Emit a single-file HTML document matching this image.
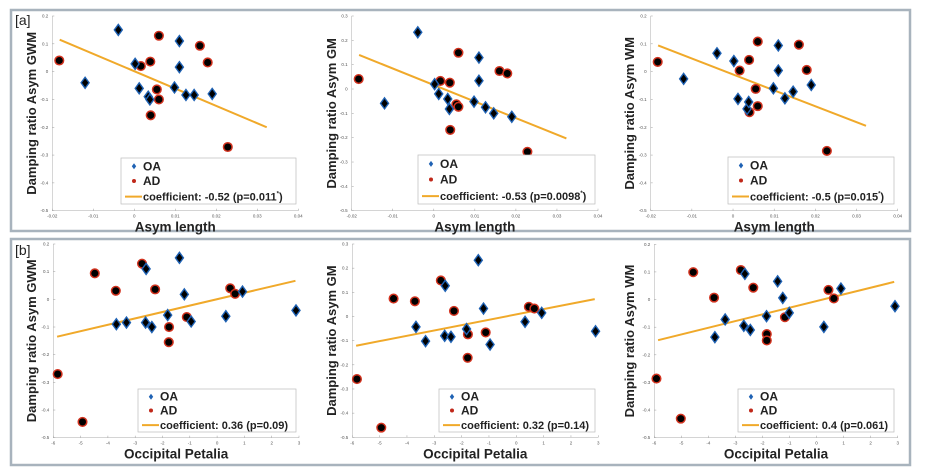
<!DOCTYPE html>
<html><head><meta charset="utf-8">
<style>
html,body{margin:0;padding:0;background:#fff;}
body{width:926px;height:472px;overflow:hidden;position:relative;font-family:"Liberation Sans",sans-serif;}
svg{position:absolute;left:0;top:0;}
</style></head>
<body>
<svg id="fig" width="926" height="472"></svg>
<script>
// ---- data ----
const oaLenX = [-0.0039,-0.012,0.0002,0.0012,0.0034,0.0038,0.0098,0.011,0.011,0.0126,0.0146,0.019];
const oaGWM_a = [0.15,-0.04,0.028,-0.06,-0.09,-0.10,-0.057,0.11,0.016,-0.084,-0.084,-0.08];
const oaGM_a  = [0.233,-0.059,0.02,-0.02,-0.041,-0.082,-0.052,0.129,0.034,-0.075,-0.1,-0.114];
const oaWM_a  = [0.066,-0.026,0.038,-0.098,-0.134,-0.109,-0.06,0.094,0.004,-0.096,-0.072,-0.048];
const adLenX = [-0.0183,0.0016,0.0039,0.006,0.0055,0.006,0.004,0.016,0.0179,0.0228];
const adGWM_a = [0.04,0.02,0.036,0.129,-0.064,-0.10,-0.157,0.093,0.033,-0.271];
const adGM_a  = [0.041,0.033,0.026,0.149,-0.063,-0.073,-0.168,0.074,0.064,-0.258];
const adWM_a  = [0.035,0.004,0.042,0.108,-0.062,-0.124,-0.146,0.097,0.006,-0.285];

const oaPetGWM_x = [-3.69,-3.32,-2.6,-2.62,-2.39,-1.81,-1.38,-1.2,-0.95,0.32,0.93,2.89];
const oaPetGWM_y = [-0.09,-0.084,0.11,-0.084,-0.10,-0.057,0.15,0.018,-0.08,-0.061,0.028,-0.04];
const adPetGWM_x = [-5.84,-4.93,-4.48,-3.71,-2.75,-2.27,-1.76,-1.77,-1.11,0.48,0.66];
const adPetGWM_y = [-0.27,-0.443,0.094,0.031,0.129,0.036,-0.10,-0.155,-0.064,0.04,0.02];
const oaPetGM_x = [-3.67,-3.32,-2.62,-2.6,-2.39,-1.82,-1.39,-1.2,-0.96,0.32,0.93,2.9];
const oaPetGM_y = [-0.043,-0.102,-0.08,0.127,-0.084,-0.052,0.233,0.033,-0.116,-0.022,0.015,-0.061];
const adPetGM_x = [-5.83,-4.94,-4.49,-3.71,-2.76,-2.28,-1.77,-1.78,-1.12,0.46,0.66];
const adPetGM_y = [-0.259,-0.46,0.074,0.063,0.149,0.023,-0.074,-0.171,-0.066,0.04,0.033];
const oaPetWM_x = [-3.76,-3.38,-2.69,-2.65,-2.45,-1.85,-1.44,-1.25,-1.01,0.27,0.9,2.9];
const oaPetWM_y = [-0.136,-0.072,-0.095,0.093,-0.11,-0.06,0.066,0.006,-0.048,-0.099,0.04,-0.024];
const adPetWM_x = [-5.92,-5.02,-4.56,-3.79,-2.8,-2.34,-1.84,-1.84,-1.17,0.44,0.64];
const adPetWM_y = [-0.286,-0.431,0.099,0.007,0.107,0.043,-0.125,-0.148,-0.064,0.035,0.004];

const fitLenX = [-0.0182,0.0323];
const fitGWM_a = [0.115,-0.2];
const fitGM_a = [0.14,-0.203];
const fitWM_a = [0.094,-0.195];
const fitPetX = [-5.86,2.87];
const fitGWM_b = [-0.135,0.067];
const fitGM_b = [-0.121,0.072];
const fitWM_b = [-0.147,0.064];

const lenTicks = [-0.02,-0.01,0,0.01,0.02,0.03,0.04];
const lenTickLabels = ["-0.02","-0.01","0","0.01","0.02","0.03","0.04"];
const petTicks = [-6,-5,-4,-3,-2,-1,0,1,2,3];
const petTickLabels = ["-6","-5","-4","-3","-2","-1","0","1","2","3"];
const yTicks2 = [0.2,0.1,0,-0.1,-0.2,-0.3,-0.4,-0.5];
const yTickLabels2 = ["0.2","0.1","0","-0.1","-0.2","-0.3","-0.4","-0.5"];
const yTicks3 = [0.3,0.2,0.1,0,-0.1,-0.2,-0.3,-0.4,-0.5];
const yTickLabels3 = ["0.3","0.2","0.1","0","-0.1","-0.2","-0.3","-0.4","-0.5"];

const NS="http://www.w3.org/2000/svg";
const svg=document.getElementById('fig');
function mk(tag,attrs,parent){const e=document.createElementNS(NS,tag);for(const k in attrs)e.setAttribute(k,attrs[k]);(parent||svg).appendChild(e);return e;}

// frames
let f1=mk('rect',{x:11,y:10,width:899,height:221,fill:'none',stroke:'#a8b3bd','stroke-width':2.5});


let f2=mk('rect',{x:11,y:239,width:899,height:226,fill:'none',stroke:'#a8b3bd','stroke-width':2.5});


let la=mk('text',{x:15,y:25,'font-size':14,fill:'#222'});la.textContent='[a]';


let lb=mk('text',{x:15,y:255,'font-size':14,fill:'#222'});lb.textContent='[b]';



function panel(p){
  const g=mk('g',{});
  
  
  const sx=v=>p.x0+(v-p.xd[0])/(p.xd[1]-p.xd[0])*(p.x1-p.x0);
  const sy=v=>p.y0+(v-p.yd[0])/(p.yd[1]-p.yd[0])*(p.y1-p.y0);
  // axes
  mk('line',{x1:p.x0,y1:p.y0,x2:p.x0,y2:p.y1,stroke:'#bbb','stroke-width':0.6},g);
  mk('line',{x1:p.x0,y1:p.y1,x2:p.x1,y2:p.y1,stroke:'#bbb','stroke-width':0.6},g);
  p.xt.forEach((t,i)=>{const x=sx(t);
    mk('line',{x1:x,y1:p.y1,x2:x,y2:p.y1-2,stroke:'#999','stroke-width':0.5},g);
    const tx=mk('text',{x:x,y:p.y1+7,'font-size':4.5,'text-anchor':'middle',fill:'#555'},g);tx.textContent=p.xl[i];
    
    });
  p.yt.forEach((t,i)=>{const y=sy(t);
    mk('line',{x1:p.x0,y1:y,x2:p.x0+2,y2:y,stroke:'#999','stroke-width':0.5},g);
    const tx=mk('text',{x:p.x0-4,y:y+1.5,'font-size':4.5,'text-anchor':'end',fill:'#555'},g);tx.textContent=p.yl[i];
    
    });
  // labels
  const xt=mk('text',{x:(p.x0+p.x1)/2,y:p.y1+21,'font-size':13.5,'font-weight':'bold','text-anchor':'middle',fill:'#222'},g);
  xt.textContent=p.xlab;
  
  
  const cy=(p.y0+p.y1)/2;
  const yt=mk('text',{x:p.ylx,y:cy,'font-size':13,'font-weight':'bold','text-anchor':'middle',fill:'#222',transform:`rotate(-90 ${p.ylx} ${cy})`},g);
  yt.textContent=p.ylab;
  
  
  // fit line
  const fl=mk('line',{x1:sx(p.fx[0]),y1:sy(p.fy[0]),x2:sx(p.fx[1]),y2:sy(p.fy[1]),stroke:'#f0a92a','stroke-width':2},g);
  
  
  // points
  p.ax.forEach((v,i)=>{const c=mk('circle',{cx:sx(v),cy:sy(p.ay[i]),r:4.3,fill:'#000',stroke:'#d2321e','stroke-width':1.5},g);
    
    });
  p.ox.forEach((v,i)=>{const x=sx(v),y=sy(p.oy[i]);
    const d=mk('polygon',{points:`${x},${y-5.5} ${x+4},${y} ${x},${y+5.5} ${x-4},${y}`,fill:'#000',stroke:'#1f62b4','stroke-width':1.4},g);
    
    });
  // legend
  const L=p.leg;
  const lg=mk('g',{},g);
  
  
  mk('rect',{x:L[0],y:L[1],width:L[2]-L[0],height:L[3]-L[1],fill:'#fff',stroke:'#bbb','stroke-width':0.7},lg);
  const h=L[3]-L[1];
  const r1=L[1]+h*0.18,r2=L[1]+h*0.5,r3=L[1]+h*0.84;
  const mx=L[0]+(p.lineLeg?13:13);
  mk('polygon',{points:`${mx},${r1-3} ${mx+2.2},${r1} ${mx},${r1+3} ${mx-2.2},${r1}`,fill:'#1f62b4'},lg);
  mk('circle',{cx:mx,cy:r2,r:2,fill:'#c0281a'},lg);
  mk('line',{x1:L[0]+4,y1:r3,x2:L[0]+21,y2:r3,stroke:'#f0a92a','stroke-width':2},lg);
  const e1=mk('text',{x:L[0]+22,y:r1+4,'font-size':12,'font-weight':'bold',fill:'#222'},lg);e1.textContent='OA';
  
  
  const e2=mk('text',{x:L[0]+22,y:r2+4,'font-size':12,'font-weight':'bold',fill:'#222'},lg);e2.textContent='AD';
  
  
  const e3=mk('text',{x:L[0]+22,y:r3+4,'font-size':11,'font-weight':'bold',fill:'#222'},lg);
  
  
  if(p.star){
    e3.appendChild(document.createTextNode(p.coef));
    const s=document.createElementNS(NS,'tspan');s.setAttribute('dy','-5');s.setAttribute('font-size','6');s.textContent='*';e3.appendChild(s);
    const s2=document.createElementNS(NS,'tspan');s2.setAttribute('dy','5');s2.textContent=')';e3.appendChild(s2);
  } else e3.textContent=p.coef;
}

panel({name:'plot-a-gwm',x0:52.3,x1:298.3,y0:16,y1:210.7,xd:[-0.02,0.04],yd:[0.2,-0.5],xt:lenTicks,xl:lenTickLabels,yt:yTicks2,yl:yTickLabels2,
  xlab:'Asym length',ylab:'Damping ratio Asym GWM',ylx:36,ox:oaLenX,oy:oaGWM_a,ax:adLenX,ay:adGWM_a,fx:fitLenX,fy:fitGWM_a,
  leg:[121,158,296,204],coef:'coefficient: -0.52 (p=0.011',star:true});
panel({name:'plot-a-gm',x0:351.7,x1:598,y0:16,y1:210.7,xd:[-0.02,0.04],yd:[0.3,-0.5],xt:lenTicks,xl:lenTickLabels,yt:yTicks3,yl:yTickLabels3,
  xlab:'Asym length',ylab:'Damping ratio Asym GM',ylx:336,ox:oaLenX,oy:oaGM_a,ax:adLenX,ay:adGM_a,fx:fitLenX,fy:fitGM_a,
  leg:[418,155,595,204],coef:'coefficient: -0.53 (p=0.0098',star:true});
panel({name:'plot-a-wm',x0:650.7,x1:897.7,y0:16,y1:210.7,xd:[-0.02,0.04],yd:[0.2,-0.5],xt:lenTicks,xl:lenTickLabels,yt:yTicks2,yl:yTickLabels2,
  xlab:'Asym length',ylab:'Damping ratio Asym WM',ylx:634,ox:oaLenX,oy:oaWM_a,ax:adLenX,ay:adWM_a,fx:fitLenX,fy:fitWM_a,
  leg:[728,157,894,204],coef:'coefficient: -0.5 (p=0.015',star:true});
panel({name:'plot-b-gwm',x0:53.3,x1:299,y0:244,y1:437.7,xd:[-6,3],yd:[0.2,-0.5],xt:petTicks,xl:petTickLabels,yt:yTicks2,yl:yTickLabels2,
  xlab:'Occipital Petalia',ylab:'Damping ratio Asym GWM',ylx:36,ox:oaPetGWM_x,oy:oaPetGWM_y,ax:adPetGWM_x,ay:adPetGWM_y,fx:fitPetX,fy:fitGWM_b,
  leg:[138,389,296,432],coef:'coefficient: 0.36 (p=0.09)',star:false});
panel({name:'plot-b-gm',x0:352.3,x1:598.3,y0:244,y1:437.3,xd:[-6,3],yd:[0.3,-0.5],xt:petTicks,xl:petTickLabels,yt:yTicks3,yl:yTickLabels3,
  xlab:'Occipital Petalia',ylab:'Damping ratio Asym GM',ylx:336,ox:oaPetGM_x,oy:oaPetGM_y,ax:adPetGM_x,ay:adPetGM_y,fx:fitPetX,fy:fitGM_b,
  leg:[439,389,595,432],coef:'coefficient: 0.32 (p=0.14)',star:false});
panel({name:'plot-b-wm',x0:654.3,x1:897.7,y0:244.3,y1:437.7,xd:[-6,3],yd:[0.2,-0.5],xt:petTicks,xl:petTickLabels,yt:yTicks2,yl:yTickLabels2,
  xlab:'Occipital Petalia',ylab:'Damping ratio Asym WM',ylx:634,ox:oaPetWM_x,oy:oaPetWM_y,ax:adPetWM_x,ay:adPetWM_y,fx:fitPetX,fy:fitWM_b,
  leg:[738,389,894,432],coef:'coefficient: 0.4 (p=0.061)',star:false});
</script>
</body></html>
